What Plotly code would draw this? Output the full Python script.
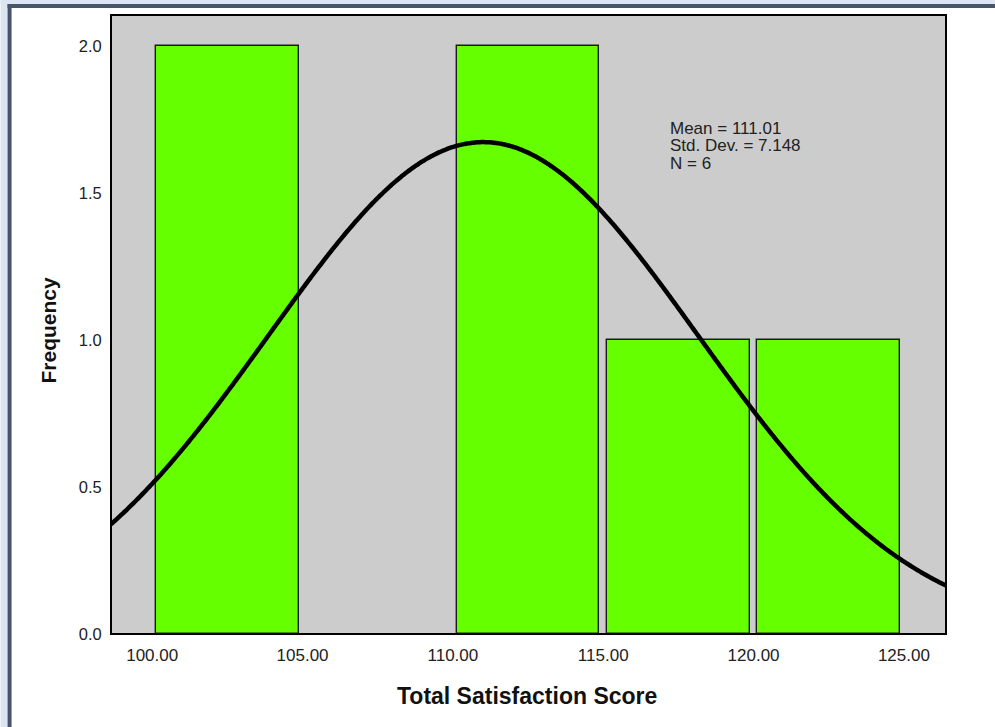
import numpy as np
import plotly.graph_objects as go

# Data
bin_starts = [100.0, 105.0, 110.0, 115.0, 120.0]
bin_width = 5.0
frequencies = [2, 0, 2, 1, 1]
mean_val = 111.01
std_val = 7.148
n_val = 6
x_ticks = [100, 105, 110, 115, 120, 125]
x_tick_labels = ["100.00", "105.00", "110.00", "115.00", "120.00", "125.00"]
y_ticks = [0, 0.5, 1.0, 1.5, 2.0]
y_tick_labels = ["0.0", "0.5", "1.0", "1.5", "2.0"]
stats_lines = [f"Mean = {mean_val:.2f}", f"Std. Dev. = {std_val:.3f}", f"N = {n_val}"]

W, H = 995, 727
L, R, T, B = 110.5, 946, 15, 634
xr = [98.63, 126.40]
yr = [0, 2.107]

centers = [s + bin_width / 2 for s in bin_starts]
bx = [c for c, f in zip(centers, frequencies) if f > 0]
by = [f for f in frequencies if f > 0]

fig = go.Figure()
fig.add_trace(go.Bar(
    x=bx, y=by, width=bin_width * 0.95,
    marker=dict(color="#66ff00", line=dict(color="#1a1a1a", width=1.4)),
    hoverinfo="skip", showlegend=False,
))

# Normal curve implied by the chart's mean, sd and N
cx = np.linspace(xr[0], xr[1], 400)
scale = n_val * bin_width / (std_val * np.sqrt(2 * np.pi))
cy = scale * np.exp(-0.5 * ((cx - mean_val) / std_val) ** 2)
fig.add_trace(go.Scatter(x=cx, y=cy, mode="lines",
                         line=dict(color="black", width=4.5, shape="spline"),
                         hoverinfo="skip", showlegend=False))

def px(xp):
    return (xp - L) / (R - L)

def py(yp):
    return (B - yp) / (B - T)

shapes = [
    dict(type="rect", xref="paper", yref="paper", x0=px(0), x1=px(7), y0=py(727), y1=py(0),
         fillcolor="#dce6f2", line=dict(width=0), layer="below"),
    dict(type="rect", xref="paper", yref="paper", x0=px(0), x1=px(995), y0=py(4), y1=py(0),
         fillcolor="#dce6f2", line=dict(width=0), layer="below"),
    dict(type="rect", xref="paper", yref="paper", x0=px(7), x1=px(11), y0=py(727), y1=py(4),
         fillcolor="#46556b", line=dict(width=0), layer="below"),
    dict(type="rect", xref="paper", yref="paper", x0=px(7), x1=px(995), y0=py(8), y1=py(4),
         fillcolor="#46556b", line=dict(width=0), layer="below"),
    dict(type="rect", xref="paper", yref="paper", x0=0, x1=1, y0=0, y1=1,
         line=dict(color="black", width=2), fillcolor="rgba(0,0,0,0)", layer="above"),
]

FONT = "Liberation Sans, Arial, sans-serif"
annotations = [
    dict(xref="paper", yref="paper", x=px(527), y=py(696), xanchor="center", yanchor="middle",
         text="<b>Total Satisfaction Score</b>", showarrow=False,
         font=dict(size=23, color="#111111", family=FONT)),
    dict(xref="paper", yref="paper", x=px(47), y=py(330), xanchor="center", yanchor="middle",
         text="<b>Frequency</b>", showarrow=False, textangle=-90,
         font=dict(size=21, color="#111111", family=FONT)),
]
for i, line in enumerate(stats_lines):
    annotations.append(dict(
        xref="paper", yref="paper", x=px(668), y=py(128 + 17.5 * i), xanchor="left", yanchor="middle",
        text=line, showarrow=False, align="left",
        font=dict(size=17, color="#222222", family=FONT)))

fig.update_layout(
    width=W, height=H,
    margin=dict(l=L, r=W - R, t=T, b=H - B, pad=0),
    paper_bgcolor="white", plot_bgcolor="#cccccc",
    font=dict(family=FONT, color="#222222"),
    bargap=0,
    shapes=shapes,
    annotations=annotations,
    xaxis=dict(range=xr, tickvals=x_ticks, ticktext=x_tick_labels,
               showgrid=False, zeroline=False, ticks="outside", ticklen=6,
               tickcolor="rgba(0,0,0,0)",
               tickfont=dict(size=17, color="#222222"), fixedrange=True),
    yaxis=dict(range=yr, tickvals=y_ticks, ticktext=y_tick_labels,
               showgrid=False, zeroline=False, ticks="outside", ticklen=5,
               tickcolor="rgba(0,0,0,0)",
               tickfont=dict(size=16.5, color="#222222"), fixedrange=True),
)

fig.write_html("out.html", config={"displayModeBar": False},
               post_script="document.body.style.margin='0';")
